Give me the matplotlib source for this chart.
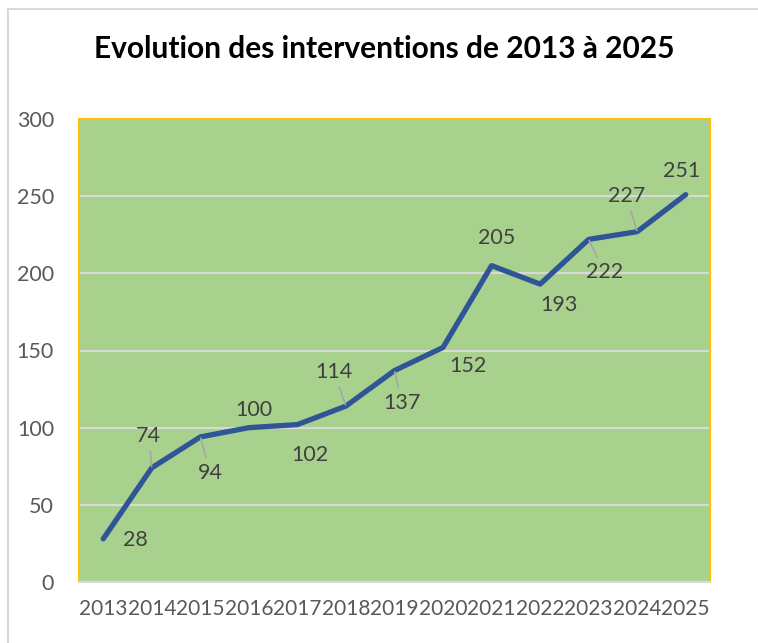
import matplotlib
matplotlib.use("Agg")
from matplotlib import pyplot as plt
from matplotlib.patches import Rectangle

plt.rcParams['font.family'] = ['Lato', 'DejaVu Sans']

annees = ['2013', '2014', '2015', '2016', '2017', '2018', '2019',
          '2020', '2021', '2022', '2023', '2024', '2025']
interventions = [28, 74, 94, 100, 102, 114, 137, 152, 205, 193, 222, 227, 251]

# position des etiquettes (decalage en pixels) et trait de rappel
decalages = [(32, -1), (-3, 32), (10, -36), (5, 18), (12, -30), (-12, 34), (7, -32),
             (25, -19), (5, 28), (19, -21), (16, -33), (-11, 36), (-4, 24)]
rappel = [False, True, True, False, False, True, True,
          False, False, False, True, True, False]

fig = plt.figure(figsize=(7.58, 6.43), dpi=100)
fig.patches.append(Rectangle((8 / 758, -0.1), 1.2, 1.1 - 9 / 643, transform=fig.transFigure,
                             fill=False, edgecolor='#D9D9D9', linewidth=1.5))

ax = fig.add_axes([79 / 758, 1 - 582 / 643, 631 / 758, 463 / 643])
ax.set_facecolor('#A9D18E')
x = list(range(len(annees)))
ax.plot(x, interventions, color='#2F5597', linewidth=3.8, solid_capstyle='round',
        solid_joinstyle='round', zorder=3)

for i, v in enumerate(interventions):
    dx, dy = decalages[i]
    props = None
    if rappel[i]:
        props = dict(arrowstyle='-', color='#A6A6A6', linewidth=1.2, shrinkA=2, shrinkB=1)
    ax.annotate(str(v), (i, v), xytext=(dx, dy), textcoords='offset pixels',
                ha='center', va='center', fontsize=15.5, color='#404040',
                arrowprops=props, zorder=4)

ax.set_xlim(-0.5, len(annees) - 0.5)
ax.set_ylim(0, 300)
ax.set_yticks(range(0, 301, 50))
ax.set_xticks(x)
ax.set_xticklabels(annees)
ax.grid(axis='y', color='#D9D9D9', linewidth=1.5, zorder=1)
ax.set_axisbelow(True)
ax.tick_params(length=0, labelsize=15.5, colors='#595959')
ax.tick_params(axis='x', labelsize=15)
ax.tick_params(axis='y', pad=18)
ax.tick_params(axis='x', pad=12)
for s in ['left', 'top', 'right']:
    ax.spines[s].set_color('#FFC000')
    ax.spines[s].set_linewidth(1.5)
ax.spines['bottom'].set_color('#D9D9D9')
ax.spines['bottom'].set_linewidth(1.5)

fig.text(384 / 758, 1 - 49 / 643, 'Evolution des interventions de 2013 à 2025',
         ha='center', va='center', fontsize=21.5, fontweight='bold', color='black')

fig.savefig('out.png', dpi=100)
